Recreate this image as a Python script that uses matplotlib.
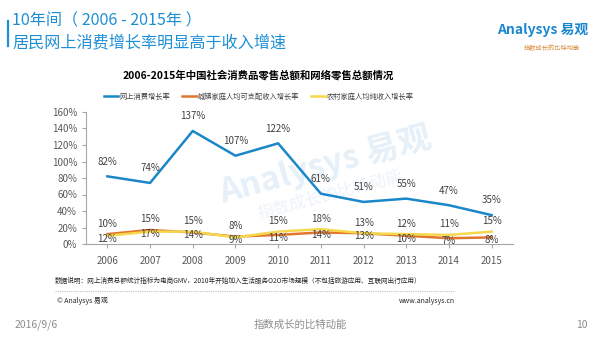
import matplotlib
matplotlib.use('Agg')
from matplotlib import pyplot as plt
from matplotlib.lines import Line2D

plt.rcParams['font.family'] = ['Noto Sans CJK SC', 'DejaVu Sans']

years = ['2006', '2007', '2008', '2009', '2010', '2011', '2012', '2013', '2014', '2015']
online = [82, 74, 137, 107, 122, 61, 51, 55, 47, 35]
urban = [12, 17, 14, 9, 11, 14, 13, 10, 7, 8]
rural = [10, 15, 15, 8, 15, 18, 13, 12, 11, 15]

series_names = ['网上消费增长率', '城镇家庭人均可支配收入增长率', '农村家庭人均纯收入增长率']
blue = '#1b87c9'
orange = '#e2762f'
yellow = '#f6d84c'
title_blue = '#1e8fd5'
label_grey = '#404040'

W, H = 600, 337
fig = plt.figure(figsize=(W / 100, H / 100), dpi=100)


def fx(px):
    return px / W


def fy(py):
    return 1 - py / H


# page header
fig.add_artist(Line2D([fx(8), fx(8)], [fy(21), fy(46)], color=title_blue, lw=1.6))
fig.text(fx(12), fy(21), '10年间（ 2006 - 2015年 ）', color=title_blue, fontsize=11.6, va='center')
fig.text(fx(12), fy(43), '居民网上消费增长率明显高于收入增速', color=title_blue, fontsize=11.6, va='center')

# logo
fig.text(fx(588), fy(30), 'Analysys 易观', color='#1a86d0', fontsize=10, fontweight='bold',
         ha='right', va='center')
fig.text(fx(580), fy(48), '指数成长的比特动能', color='#d98a3a', fontsize=4.5, ha='right', va='center')

# chart title
fig.text(fx(258), fy(75), '2006-2015年中国社会消费品零售总额和网络零售总额情况', color='black',
         fontsize=7.5, fontweight='bold', ha='center', va='center')

ax = fig.add_axes([fx(86), fy(244), fx(513) - fx(86), fy(112) - fy(244)])

# faint watermark behind the lines
ax.text(fx(325), fy(165), 'Analysys 易观', transform=fig.transFigure, color='#e6f0f8', fontsize=24,
        fontweight='bold', rotation=15, ha='center', va='center', zorder=0)
ax.text(fx(330), fy(195), '指数成长的比特动能', transform=fig.transFigure, color='#edf3f9', fontsize=12,
        rotation=15, ha='center', va='center', zorder=0)

x = range(len(years))
ax.plot(x, online, color=blue, lw=1.8, label=series_names[0], zorder=3)
ax.plot(x, urban, color=orange, lw=1.8, label=series_names[1], zorder=3)
ax.plot(x, rural, color=yellow, lw=1.8, label=series_names[2], zorder=3)

for i in x:
    ax.annotate(f'{online[i]}%', (i, online[i]), xytext=(0, 7), textcoords='offset points',
                ha='center', va='bottom', fontsize=7, color=label_grey, zorder=4)
    ax.annotate(f'{rural[i]}%', (i, max(rural[i], urban[i])), xytext=(0, 4), textcoords='offset points',
                ha='center', va='bottom', fontsize=7, color=label_grey, zorder=4)
    ax.annotate(f'{urban[i]}%', (i, min(rural[i], urban[i])), xytext=(0, -2), textcoords='offset points',
                ha='center', va='center', fontsize=7, color=label_grey, zorder=4)

ax.set_xlim(-0.5, 9.5)
ax.set_ylim(0, 160)
ax.set_yticks(range(0, 161, 20))
ax.set_yticklabels([f'{v}%' for v in range(0, 161, 20)])
ax.set_xticks(list(x))
ax.set_xticklabels(years)
ax.tick_params(colors='#a6a6a6', labelcolor='#595959', labelsize=7, length=3, width=0.8)
ax.tick_params(axis='x', pad=6)
for side in ['top', 'right']:
    ax.spines[side].set_visible(False)
for side in ['left', 'bottom']:
    ax.spines[side].set_color('#a6a6a6')
    ax.spines[side].set_linewidth(0.8)
ax.patch.set_alpha(0)

fig.legend(loc='center', bbox_to_anchor=(fx(259), fy(97)), ncol=3, frameon=False, fontsize=5.2,
           handlelength=2.0, handletextpad=0.2, columnspacing=1.6, labelcolor=label_grey)

# notes and footer
fig.text(fx(55), fy(281), '数据说明：网上消费总额统计指标为电商GMV，2010年开始加入生活服务O2O市场规模（不包括旅游应用、互联网出行应用）',
         fontsize=4.8, color='#262626', va='center')
fig.add_artist(Line2D([fx(55), fx(455)], [fy(291), fy(291)], color='#bfbfbf', lw=0.8, ls=(0, (1, 1))))
fig.text(fx(57), fy(301), '© Analysys 易观', fontsize=5, color='#262626', va='center')
fig.text(fx(455), fy(301), 'www.analysys.cn', fontsize=5, color='#262626', va='center', ha='right')
fig.text(fx(15), fy(325), '2016/9/6', fontsize=7.5, color='#8c8c8c', va='center')
fig.text(0.5, fy(325), '指数成长的比特动能', fontsize=7.5, color='#8c8c8c', va='center', ha='center')
fig.text(fx(588), fy(325), '10', fontsize=7.5, color='#8c8c8c', va='center', ha='right')

fig.savefig('out.png', dpi=100)
